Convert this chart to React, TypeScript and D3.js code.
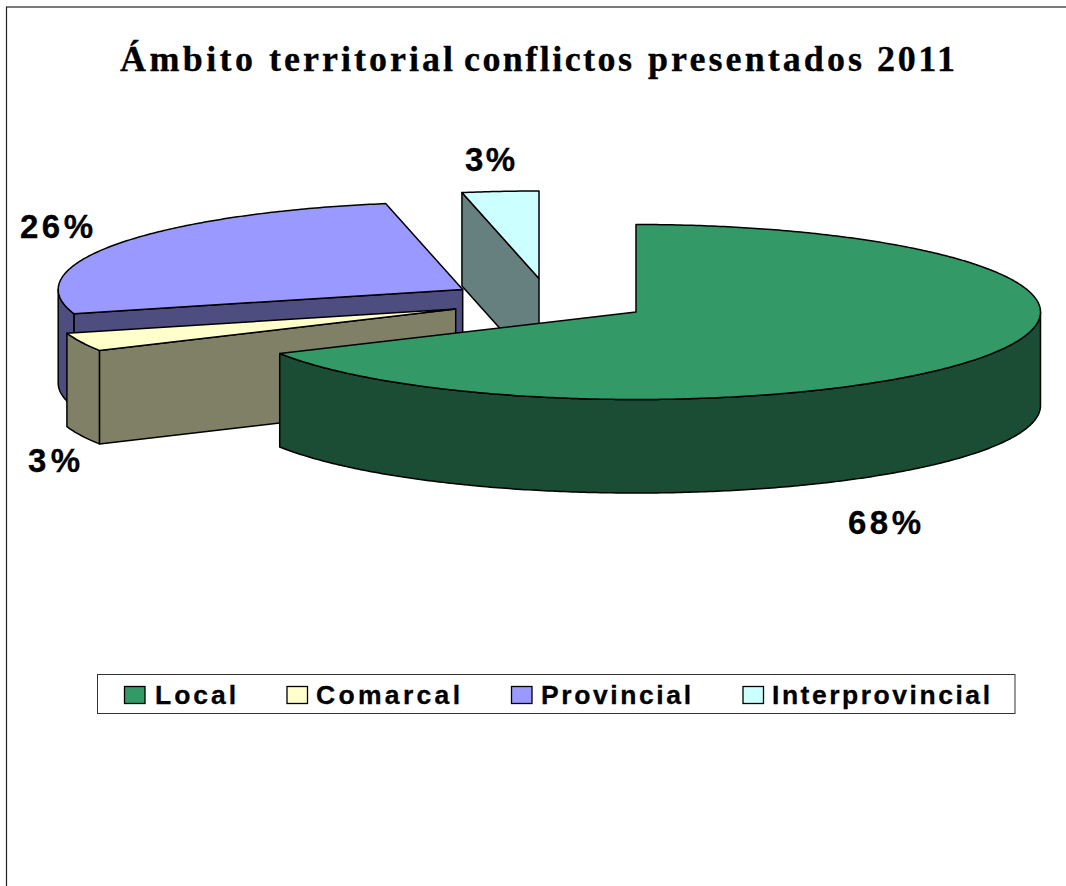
import React from "react";
import * as d3 from "d3";

const titleWords = ["Ámbito", "territorial", "conflictos", "presentados", "2011"];
const categories = ["Local", "Comarcal", "Provincial", "Interprovincial"];
const shares = [67.15, 3.4, 26.4, 3.05];
const percentLabels = ["68%", "3%", "26%", "3%"];
const topColors = ["#339966", "#FFFFCC", "#9999FF", "#CCFFFF"];
const sideColors = ["#1A4D33", "#808066", "#4D4D80", "#668080"];

// Layout only: apex of each exploded slice, label anchors and text widths
const apexX = [636, 455.7, 462.7, 539];
const apexY = [312, 309, 289.5, 278.5];
const labelX = [848, 28, 20, 465];
const labelY = [534, 472, 238, 171];
const labelW = [73, 52, 73, 50];
const legendSwatchX = [124.5, 287, 511.5, 743];
const legendTextX = [155, 316, 541, 772];
const legendTextW = [81, 144, 150, 218];
const titleX = [120, 269, 464, 648, 877];
const titleW = [133, 184, 168, 214, 78];

const RX = 404.5;
const RY = 87.5;
const DEPTH = 93.5;
const TAU = Math.PI * 2;

const pie = d3.pie<number>().sort(null).startAngle(0).endAngle(TAU);
const arcs = pie(shares);

const line = d3.line<[number, number]>();

function rimPoints(i: number, a0: number, a1: number, dy = 0): [number, number][] {
  const sx = d3.scaleLinear().domain([-1, 1]).range([apexX[i] - RX, apexX[i] + RX]);
  const sy = d3.scaleLinear().domain([-1, 1]).range([apexY[i] - RY + dy, apexY[i] + RY + dy]);
  const n = Math.max(2, Math.ceil((a1 - a0) / 0.01));
  return d3.range(n + 1).map((k) => {
    const t = a0 + ((a1 - a0) * k) / n;
    return [sx(Math.sin(t)), sy(-Math.cos(t))] as [number, number];
  });
}

function Slice({ i }: { i: number }) {
  const { startAngle: a0, endAngle: a1 } = arcs[i];
  const wallA = Math.max(a0, Math.PI / 2);
  const wallB = Math.min(a1, (3 * Math.PI) / 2);
  const top = [[apexX[i], apexY[i]] as [number, number], ...rimPoints(i, a0, a1)];
  const start = rimPoints(i, a0, a0 + 0.0001)[0];
  const cut: [number, number][] = [
    [apexX[i], apexY[i]],
    start,
    [start[0], start[1] + DEPTH],
    [apexX[i], apexY[i] + DEPTH],
  ];
  const common = { stroke: "#000", strokeWidth: 1.5, strokeLinejoin: "round" as const };
  return (
    <g>
      {a0 > Math.PI && <path d={line(cut) + "Z"} fill={sideColors[i]} {...common} />}
      {wallB > wallA && (
        <path
          d={line([...rimPoints(i, wallA, wallB), ...rimPoints(i, wallA, wallB, DEPTH).reverse()]) + "Z"}
          fill={sideColors[i]}
          {...common}
        />
      )}
      <path d={line(top) + "Z"} fill={topColors[i]} {...common} />
    </g>
  );
}

const sansBold = {
  fontFamily: "'Liberation Sans', Arial, sans-serif",
  fontWeight: 700,
  fill: "#000",
  stroke: "#000",
  strokeWidth: 0.3,
  lengthAdjust: "spacing" as const,
};

export default function App() {
  return (
    <svg
      width={1066}
      height={886}
      viewBox="0 0 1066 886"
      style={{ position: "absolute", left: 0, top: 0, display: "block", background: "#fff" }}
    >
      <rect x={6.5} y={7} width={1200} height={1000} fill="#fff" stroke="#222" strokeWidth={1.2} />
      <text
        y={71}
        stroke="#000"
        strokeWidth={0.3}
        style={{ fontFamily: "'Liberation Serif', 'Times New Roman', serif", fontWeight: 700, fontSize: 36 }}
      >
        {titleWords.map((w, i) => (
          <React.Fragment key={w}>
            {i > 0 ? " " : ""}
            <tspan x={titleX[i]} textLength={titleW[i]} lengthAdjust="spacing">
              {w}
            </tspan>
          </React.Fragment>
        ))}
      </text>
      {[3, 2, 1, 0].map((i) => (
        <Slice key={i} i={i} />
      ))}
      {percentLabels.map((t, i) => (
        <text key={i} x={labelX[i]} y={labelY[i]} {...sansBold} fontSize={33} textLength={labelW[i]}>
          {t}
        </text>
      ))}
      <rect x={97.5} y={674.5} width={917.5} height={39} fill="#fff" stroke="#333" strokeWidth={1} />
      {categories.map((c, i) => (
        <g key={c}>
          <rect
            x={legendSwatchX[i]}
            y={686.5}
            width={20.5}
            height={17}
            fill={topColors[i]}
            stroke="#000"
            strokeWidth={1.3}
          />
          <text x={legendTextX[i]} y={704} {...sansBold} fontSize={26.5} textLength={legendTextW[i]}>
            {c}
          </text>
        </g>
      ))}
    </svg>
  );
}
